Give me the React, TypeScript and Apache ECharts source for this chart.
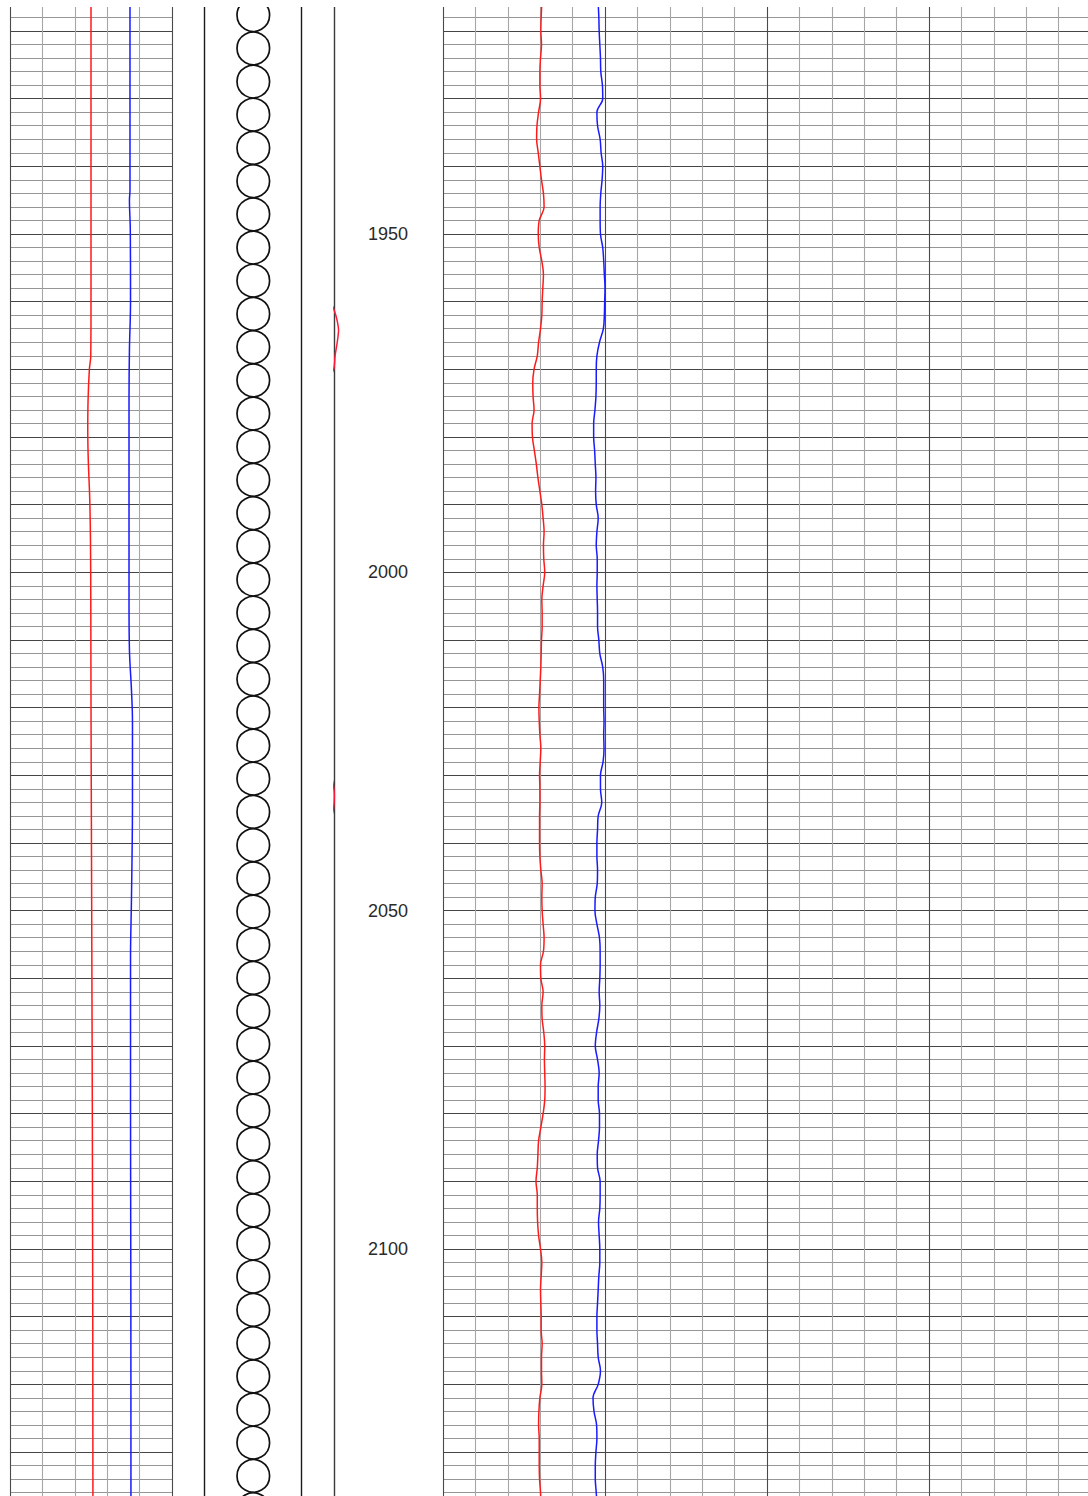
import React, { useEffect, useRef } from "react";
import * as echarts from "echarts";

// ---------- DATA ----------
// Depth sampling for the right-hand (track 4) curves, metres, every 2 m
const track4Depths: number[] = Array.from({ length: 112 }, (_, i) => 1916 + 2 * i);

// Track 4 curves (scale 0–200, 10 per division)
const track4Red: number[] = [
  30.5, 30.3, 30.2, 30.4, 30.1, 29.9, 29.9, 30.1, 29.5, 29.0,
  28.9, 29.4, 29.9, 30.4, 31.0, 31.2, 29.7, 29.4, 29.7, 30.5,
  31.0, 30.8, 30.6, 30.5, 30.1, 29.5, 29.1, 28.1, 27.7, 27.8,
  28.1, 27.5, 27.6, 28.2, 28.8, 29.3, 29.9, 30.5, 30.9, 31.2,
  31.0, 31.1, 31.4, 30.9, 30.5, 30.6, 30.6, 30.4, 30.3, 30.2,
  30.0, 29.8, 29.6, 29.7, 29.9, 30.2, 30.0, 29.8, 29.9, 29.9,
  29.8, 29.8, 29.8, 29.9, 30.2, 30.6, 30.5, 30.6, 30.9, 31.2,
  31.0, 30.1, 30.2, 30.9, 30.5, 30.6, 31.1, 31.4, 31.3, 31.4,
  31.5, 31.4, 30.9, 30.2, 29.5, 29.3, 29.1, 28.7, 29.1, 29.1,
  29.2, 29.5, 30.1, 30.5, 30.3, 30.1, 30.2, 30.3, 30.3, 30.6,
  30.4, 30.4, 30.5, 29.9, 29.6, 29.5, 29.7, 29.7, 29.7, 29.8,
  30.1, 30.2,
];
const track4Blue: number[] = [
  47.9, 48.1, 48.2, 48.4, 48.6, 48.7, 49.2, 49.3, 47.5, 47.7,
  48.5, 48.8, 49.3, 49.1, 48.7, 48.5, 48.5, 48.6, 49.3, 49.6,
  49.8, 50.0, 49.9, 49.8, 49.5, 48.3, 47.5, 47.3, 47.3, 47.2,
  46.9, 46.5, 46.5, 46.8, 47.0, 47.2, 47.1, 47.3, 47.9, 47.5,
  47.3, 47.6, 47.6, 47.5, 47.6, 47.7, 47.7, 48.1, 48.4, 49.3,
  49.6, 49.6, 49.6, 49.7, 49.6, 49.7, 49.4, 48.6, 48.6, 49.0,
  47.9, 47.7, 47.5, 47.5, 47.7, 47.6, 47.0, 46.9, 47.5, 48.3,
  48.5, 48.5, 48.4, 48.2, 48.4, 48.1, 47.4, 47.0, 47.7, 48.2,
  47.9, 47.9, 48.3, 48.3, 48.0, 47.6, 47.7, 48.5, 48.5, 48.4,
  48.0, 48.2, 48.4, 48.4, 48.1, 47.9, 47.7, 47.5, 47.5, 47.7,
  47.9, 48.6, 47.9, 46.3, 46.6, 47.4, 47.5, 47.2, 47.0, 47.0,
  47.3, 47.5,
];

// Track 1 curves (scale 0–150)
const track1RedDepth: number[] = [1916, 1960, 1968, 1970, 1974.5, 1979, 1983.5, 1989, 1995, 2004, 2019, 2034, 2048, 2063, 2078, 2093, 2107, 2122, 2138];
const track1RedValue: number[] = [75.0, 75.0, 74.8, 73.5, 72.3, 72.0, 72.5, 73.8, 74.5, 74.8, 75.0, 75.3, 75.6, 75.9, 76.2, 76.4, 76.6, 76.7, 76.8];
const track1BlueDepth: number[] = [1916, 1943.5, 1945, 1949.5, 1960, 1967, 1974.5, 1989, 2004, 2011.5, 2017.5, 2022, 2034, 2048, 2057, 2078, 2107, 2138];
const track1BlueValue: number[] = [111.1, 111.1, 110.6, 111.4, 111.6, 110.6, 110.2, 110.2, 110.2, 110.6, 112.5, 113.4, 113.4, 112.5, 111.6, 111.6, 111.9, 112.0];

// Track 3 curve (scale 0–100, mostly off scale to the left)
const track3Depth: number[] = [1916, 1955, 1960, 1961.2, 1962.5, 1964.2, 1966, 1968, 1969.8, 1971, 1975, 2000, 2028, 2031.5, 2033, 2035, 2038, 2060, 2138];
const track3Value: number[] = [-20, -15, -3, 0, 2.5, 4.2, 3, 1, 0, -3, -12, -15, -5, -0.5, 0.3, -0.5, -5, -15, -18];

// Lithology interval (conglomerate pattern)
const lithoTop: number[] = [1915.2];
const lithoBottom: number[] = [2140];

// Depth tick labels
const depthLabels: number[] = [1950, 2000, 2050, 2100];

const DEPTH_MIN = 1916;
const DEPTH_MAX = 2138;

export default function App() {
  const ref = useRef<HTMLDivElement>(null);

  useEffect(() => {
    if (!ref.current) return;
    const chart = echarts.init(ref.current, undefined, { renderer: "svg" });

    const minorH = "#969696";
    const majorH = "#454545";
    const minorV = "#a6a6a6";
    const majorV = "#4a4a4a";

    const gridTop = 3.93;
    const gridHeight = 1502.2;

    const grids = [
      { left: 10, width: 162, top: gridTop, height: gridHeight, outerBoundsMode: "none" },
      { left: 204, width: 97, top: gridTop, height: gridHeight, outerBoundsMode: "none" },
      { left: 334, width: 108, top: gridTop, height: gridHeight, outerBoundsMode: "none" },
      { left: 443, width: 648, top: gridTop, height: gridHeight, outerBoundsMode: "none" },
    ];

    const hidden = {
      axisLine: { show: false },
      axisTick: { show: false },
      axisLabel: { show: false },
    };

    const xAxis = [
      {
        gridIndex: 0, type: "value", min: 0, max: 150, interval: 30, position: "top", ...hidden,
        splitLine: { show: true, lineStyle: { color: [majorV, minorV, minorV, minorV, minorV, majorV], width: 1.1 } },
      },
      {
        gridIndex: 1, type: "value", min: 0, max: 1, interval: 1, position: "top", ...hidden,
        splitLine: { show: true, lineStyle: { color: "#1a1a1a", width: 1.4 } },
      },
      {
        gridIndex: 2, type: "value", min: 0, max: 100, interval: 100, position: "top", ...hidden,
        splitLine: { show: true, lineStyle: { color: ["#3a3a3a", "rgba(0,0,0,0)"], width: 1.4 } },
      },
      {
        gridIndex: 3, type: "value", min: 0, max: 200, interval: 10, position: "top", ...hidden,
        splitLine: { show: true, lineStyle: { color: [majorV, minorV, minorV, minorV, minorV], width: 1.1 } },
      },
    ];

    const depthAxisBase = {
      type: "value", inverse: true, min: DEPTH_MIN, max: DEPTH_MAX, interval: 2,
      axisLine: { show: false }, axisTick: { show: false },
    };
    const hSplit = { show: true, lineStyle: { color: [minorH, minorH, majorH, minorH, minorH], width: 1.1 } };

    const yAxis = [
      { ...depthAxisBase, gridIndex: 0, axisLabel: { show: false }, splitLine: hSplit },
      { ...depthAxisBase, gridIndex: 1, axisLabel: { show: false }, splitLine: { show: false } },
      {
        ...depthAxisBase, gridIndex: 2, splitLine: { show: false },
        axisLabel: {
          show: true, inside: true, margin: 54, align: "center", verticalAlign: "middle",
          fontSize: 18, fontFamily: "'Liberation Sans', Arial, sans-serif", color: "#2a2a2a",
          showMinLabel: true, showMaxLabel: true,
          formatter: (v: number) => (depthLabels.includes(Math.round(v)) && Math.abs(v - Math.round(v)) < 1e-6 ? String(Math.round(v)) : ""),
        },
      },
      { ...depthAxisBase, gridIndex: 3, axisLabel: { show: false }, splitLine: hSplit },
    ];

    const lineCommon = {
      type: "line", showSymbol: false, symbol: "none", smooth: 0.35, clip: true, silent: true,
    };

    const series: any[] = [
      {
        ...lineCommon, name: "T1 red", xAxisIndex: 0, yAxisIndex: 0,
        lineStyle: { color: "#ff1a1a", width: 1.5 },
        data: track1RedDepth.map((d, i) => [track1RedValue[i], d]),
      },
      {
        ...lineCommon, name: "T1 blue", xAxisIndex: 0, yAxisIndex: 0,
        lineStyle: { color: "#1a1aff", width: 1.5 },
        data: track1BlueDepth.map((d, i) => [track1BlueValue[i], d]),
      },
      {
        type: "custom", name: "Lithology", xAxisIndex: 1, yAxisIndex: 1, clip: true, silent: true,
        encode: { y: [0, 1] },
        data: lithoTop.map((t, i) => [t, lithoBottom[i]]),
        renderItem: (params: any, api: any) => {
          const top = api.value(0);
          const bottom = api.value(1);
          const p0 = api.coord([0.5, top]);
          const p1 = api.coord([0.5, bottom]);
          const d = 33.2;
          const r = d / 2;
          const children: any[] = [];
          for (let cy = p0[1] + r; cy - r < p1[1]; cy += d) {
            children.push({
              type: "circle",
              shape: { cx: p0[0] + 0.8, cy, r: r - 0.3 },
              style: { fill: "none", stroke: "#111", lineWidth: 1.7 },
            });
          }
          return { type: "group", children };
        },
      },
      {
        ...lineCommon, name: "T3 red", xAxisIndex: 2, yAxisIndex: 2, smooth: 0.3,
        lineStyle: { color: "#ff1a3a", width: 1.5 },
        data: track3Depth.map((d, i) => [track3Value[i], d]),
      },
      {
        ...lineCommon, name: "T4 red", xAxisIndex: 3, yAxisIndex: 3,
        lineStyle: { color: "#ff1a1a", width: 1.5 },
        data: track4Depths.map((d, i) => [track4Red[i], d]),
      },
      {
        ...lineCommon, name: "T4 blue", xAxisIndex: 3, yAxisIndex: 3,
        lineStyle: { color: "#1a1aff", width: 1.5 },
        data: track4Depths.map((d, i) => [track4Blue[i], d]),
      },
    ];

    chart.setOption({
      animation: false,
      backgroundColor: "#ffffff",
      grid: grids,
      xAxis,
      yAxis,
      series,
      graphic: [
        {
          type: "rect", silent: true, z: 100,
          shape: { x: 0, y: 0, width: 1088, height: 7 },
          style: { fill: "#ffffff" },
        },
      ],
    });

    return () => chart.dispose();
  }, []);

  return (
    <div
      ref={ref}
      style={{ position: "absolute", left: 0, top: 0, width: 1088, height: 1496 }}
    />
  );
}
